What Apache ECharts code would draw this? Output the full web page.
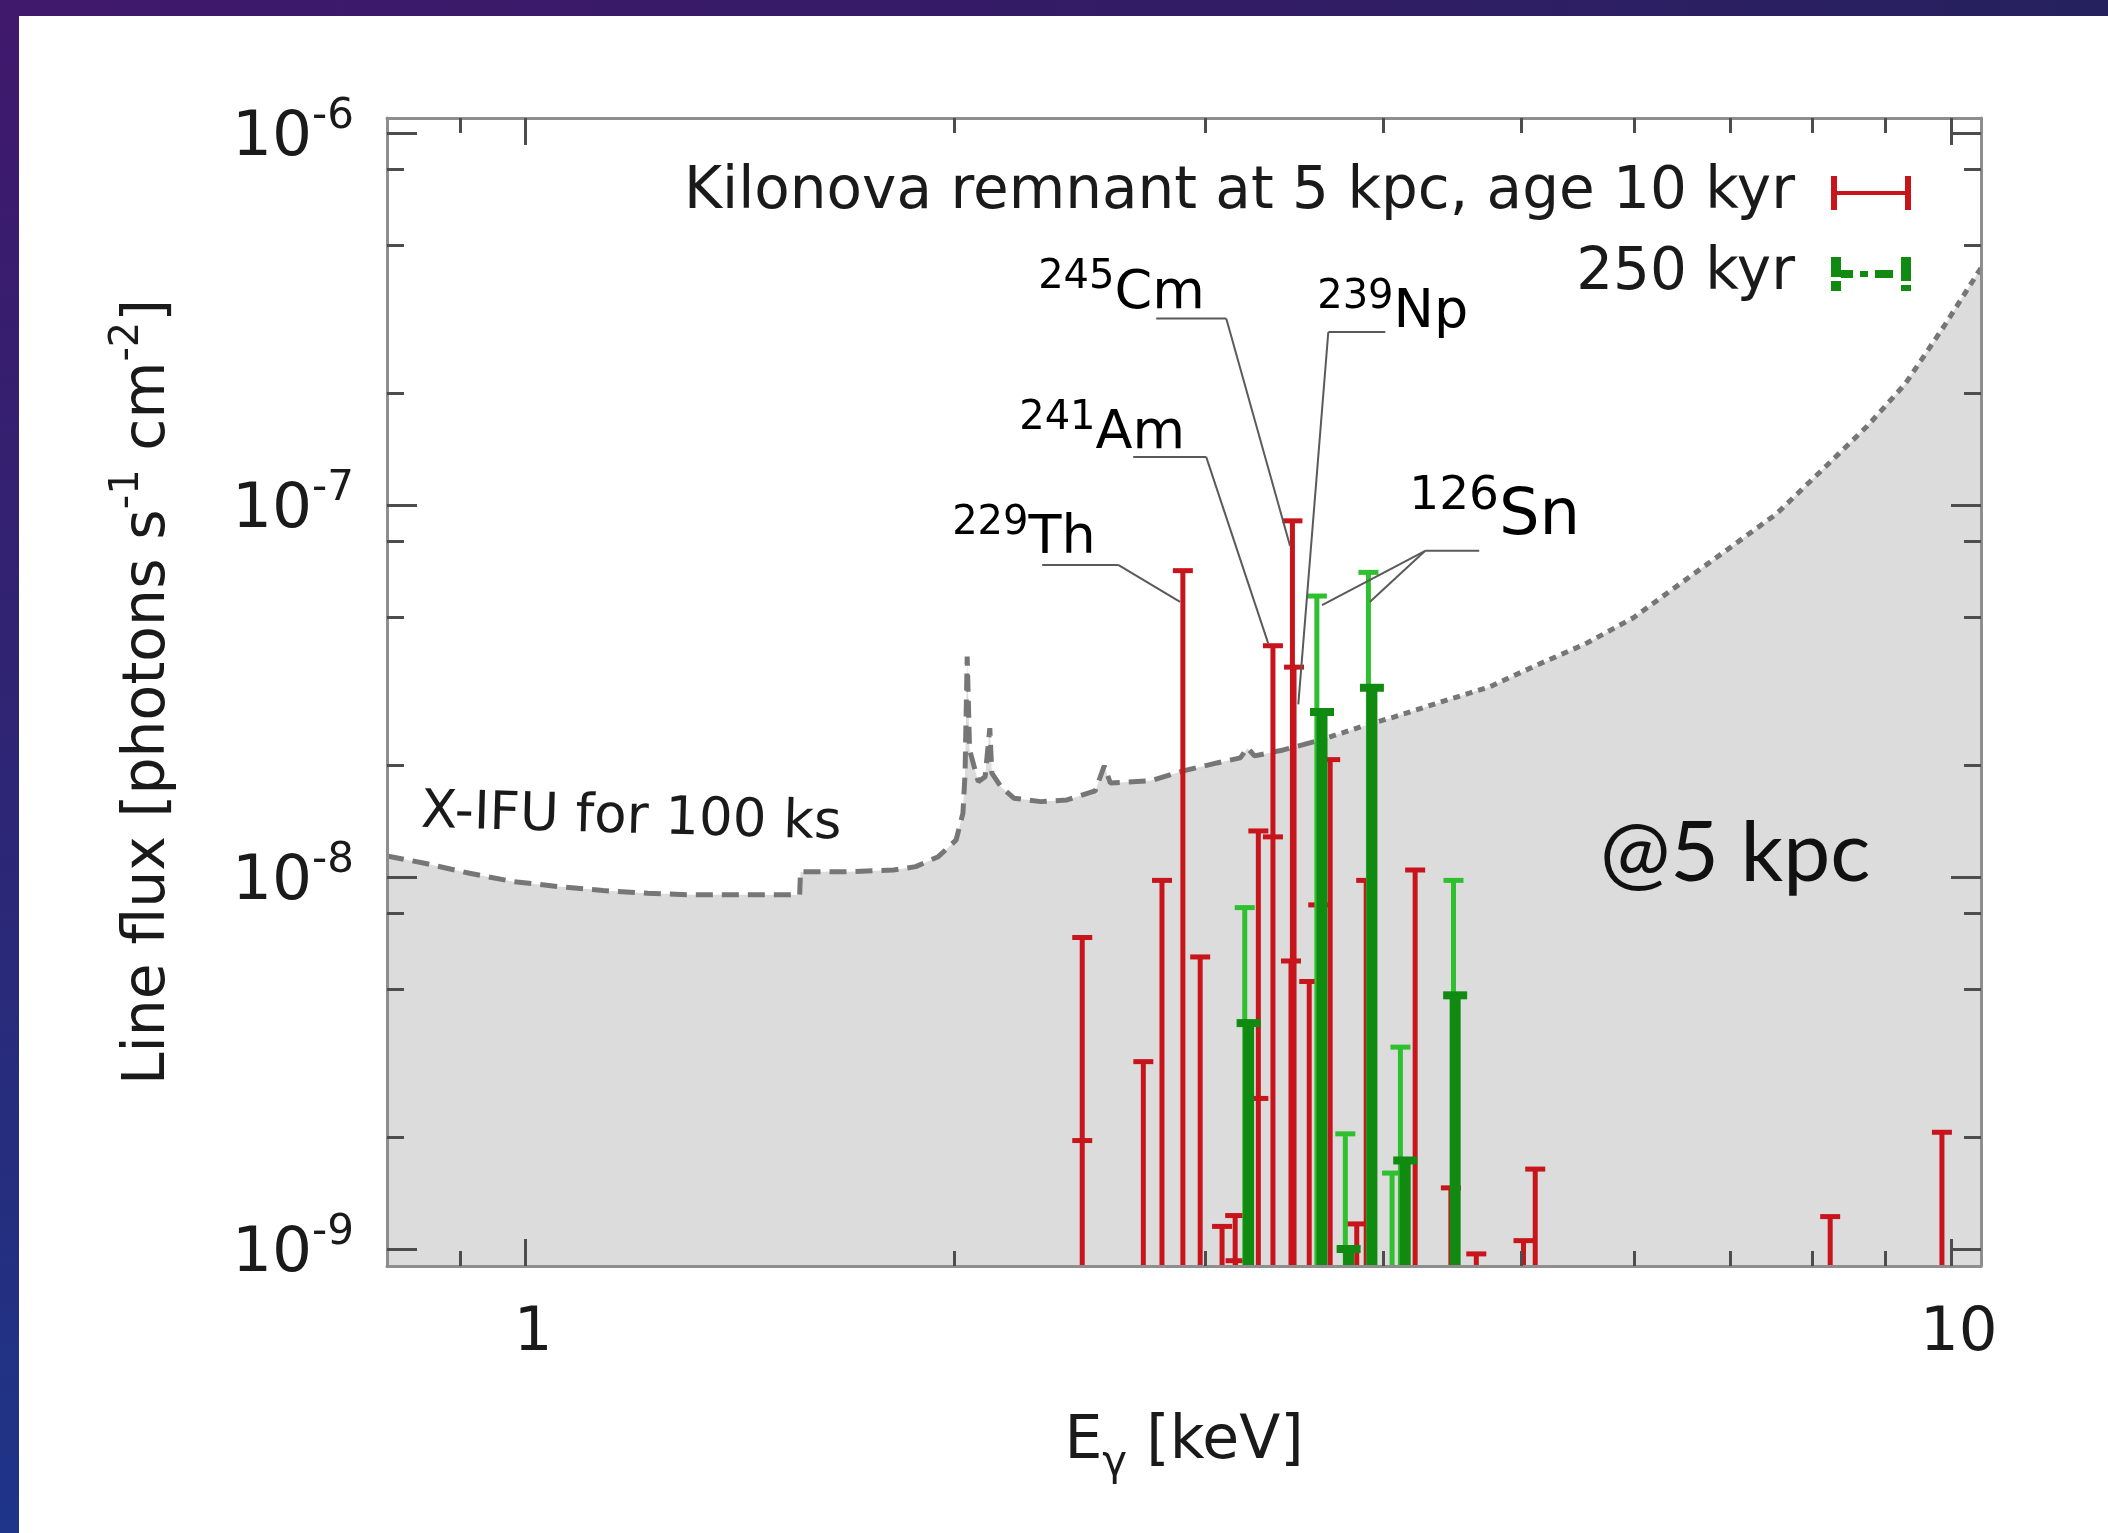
<!DOCTYPE html>
<html>
<head>
<meta charset="utf-8">
<script src="https://cdn.jsdelivr.net/npm/echarts@6.0.0/dist/echarts.min.js"></script>
<style>
  html, body { margin: 0; padding: 0; width: 2108px; height: 1533px; overflow: hidden; }
  body { background: linear-gradient(180deg, #40186c 0%, #2f2472 45%, #1e3588 100%); position: relative; }
  #topband { position: absolute; left: 0; top: 0; width: 2108px; height: 16px;
             background: linear-gradient(90deg, #40186c 0%, #331c66 55%, #25215e 100%); }
  #chart { position: absolute; left: 19px; top: 16px; width: 2089px; height: 1517px; background: #ffffff; }
</style>
</head>
<body>
<div id="topband"></div>
<div id="chart"></div>
<script>
// ---- axis ranges and ticks ----
const xMin = 0.8, xMax = 10.5;
const yMin = 9e-10, yMax = 1.1e-6;
const xMajorTicks = [1, 10];
const xMinorTicks = [0.9, 2, 3, 4, 5, 6, 7, 8, 9];
const yMajorTicks = [1e-9, 1e-8, 1e-7, 1e-6];
const yMinorTicks = [2e-9, 5e-9, 8e-9, 2e-8, 5e-8, 8e-8, 2e-7, 5e-7, 8e-7];

// ---- X-IFU 100 ks line sensitivity (keV, photons s^-1 cm^-2) ----
const sensE = [0.80, 0.85, 0.914, 0.982, 1.056, 1.134, 1.219, 1.311, 1.409, 1.558,
               1.560, 1.687, 1.813, 1.879, 1.949, 2.006, 2.028, 2.035, 2.042, 2.050,
               2.079, 2.102, 2.118, 2.125, 2.156, 2.202, 2.300, 2.399, 2.511, 2.548,
               2.573, 2.744, 2.894, 3.057, 3.174, 3.211, 3.248, 3.402, 3.592, 3.894,
               4.071, 4.390, 4.745, 5.128, 5.541, 5.986, 6.470, 6.981, 7.544, 8.151,
               8.739, 9.290, 9.894, 10.5];
const sensFlux = [1.14e-8, 1.09e-8, 1.024e-8, 9.72e-9, 9.43e-9, 9.20e-9, 9.05e-9, 8.96e-9, 8.96e-9, 8.96e-9,
                  1.034e-8, 1.034e-8, 1.045e-8, 1.067e-8, 1.135e-8, 1.259e-8, 1.485e-8, 1.903e-8, 3.916e-8, 2.198e-8,
                  1.806e-8, 1.863e-8, 2.515e-8, 1.903e-8, 1.751e-8, 1.630e-8, 1.596e-8, 1.613e-8, 1.705e-8, 1.991e-8,
                  1.792e-8, 1.815e-8, 1.930e-8, 2.028e-8, 2.092e-8, 2.226e-8, 2.118e-8, 2.198e-8, 2.323e-8, 2.566e-8,
                  2.697e-8, 2.958e-8, 3.246e-8, 3.721e-8, 4.237e-8, 4.977e-8, 6.18e-8, 7.63e-8, 9.475e-8, 1.26e-7,
                  1.633e-7, 2.12e-7, 3.034e-7, 4.345e-7];
const dashSplitE = 3.6;   // the dash pattern gets finer above this energy

// ---- line fluxes, remnant age 10 kyr (energy, upper end, central value) ----
const redE    = [2.459, 2.714, 2.797, 2.893, 2.975, 3.082, 3.148, 3.150, 3.268, 3.346,
                 3.453, 3.462, 3.445, 3.548, 3.600, 3.670, 3.831, 3.890, 4.210, 4.460,
                 4.647, 5.015, 5.111, 8.230, 9.858];
const redHigh = [6.88e-9, 3.19e-9, 9.80e-9, 6.67e-8, 6.10e-9, 1.15e-9, 1.23e-9, 9.3e-10, 1.331e-8, 4.19e-8,
                 9.08e-8, 3.67e-8, 5.95e-9, 5.24e-9, 8.42e-9, 2.07e-8, 1.168e-9, 9.80e-9, 1.045e-8, 1.46e-9,
                 9.7e-10, 1.053e-9, 1.64e-9, 1.222e-9, 2.06e-9];
const redMid  = [1.957e-9, null, null, null, null, null, null, null, 2.54e-9, 1.283e-8,
                 null, null, null, null, null, null, null, null, null, null,
                 null, null, null, null, null];

// ---- line fluxes, remnant age 250 kyr ----
const greenE    = [3.197, 3.592, 3.761, 3.904, 4.056, 4.111, 4.479];
const greenHigh = [8.28e-9, 5.70e-8, 2.04e-9, 6.60e-8, 1.60e-9, 3.49e-9, 9.80e-9];
const darkE     = [3.217, 3.622, 3.781, 3.926, 4.143, 4.491];
const darkHigh  = [4.05e-9, 2.78e-8, 1.0e-9, 3.23e-8, 1.73e-9, 4.81e-9];

const seriesNames = ['Kilonova remnant at 5 kpc, age 10 kyr', '250 kyr'];

// ---- isotope tags ----
const isoMass = ['229', '241', '245', '239', '126'];
const isoElem = ['Th', 'Am', 'Cm', 'Np', 'Sn'];
// leader geometry in data space: text anchor, underline from/elbow, targets
const isoLayout = [
  { textE: 1.993, textF: 8.32e-8,  lineF: 6.91e-8,  from: 2.305, elbow: 2.606, targets: [[2.880, 5.50e-8]], big: false },
  { textE: 2.221, textF: 1.594e-7, lineF: 1.349e-7, from: 2.670, elbow: 3.004, targets: [[3.320, 4.26e-8]], big: false },
  { textE: 2.290, textF: 3.816e-7, lineF: 3.177e-7, from: 2.771, elbow: 3.103, targets: [[3.440, 7.77e-8]], big: false },
  { textE: 3.594, textF: 3.372e-7, lineF: 2.924e-7, from: 4.012, elbow: 3.659, targets: [[3.486, 2.913e-8]], big: false },
  { textE: 4.170, textF: 9.65e-8,  lineF: 7.54e-8,  from: 4.669, elbow: 4.279, targets: [[3.622, 5.39e-8], [3.914, 5.50e-8]], big: true }
];

// ---- styling ----
const FONT = 'DejaVu Sans';
const INK = '#1a1a1a';
const frameColor = '#8e8e8e';
const tickColor = '#4d4d4d';
const RED = '#c8141b', LIGHT_GREEN = '#2fc02f', DARK_GREEN = '#118a11';

const supRich = (size, supSize, lh) => ({
  b:   { fontFamily: FONT, fontSize: size, lineHeight: lh, verticalAlign: 'bottom', color: INK },
  sup: { fontFamily: FONT, fontSize: supSize, lineHeight: supSize, verticalAlign: 'top', color: INK }
});

function makeAxis(kind, position, ticks, tickLen, withLine, labelCfg, extra) {
  const ax = {
    type: 'log', logBase: 10,
    min: kind === 'x' ? xMin : yMin,
    max: kind === 'x' ? xMax : yMax,
    position: position, z: 10,
    axisLine: { show: withLine, onZero: false, lineStyle: { color: frameColor, width: 3 } },
    axisTick: { show: true, inside: true, length: tickLen, customValues: ticks,
                lineStyle: { color: tickColor, width: 3 } },
    axisLabel: labelCfg || { show: false },
    splitLine: { show: false },
    minorTick: { show: false }
  };
  return Object.assign(ax, extra || {});
}

const xLabelCfg = {
  show: true, customValues: xMajorTicks, margin: 38,
  formatter: v => '{b|' + Math.round(v) + '}',
  rich: { b: { fontFamily: FONT, fontSize: 61, color: INK, padding: [0, 0, 0, 16] } }
};
const yLabelCfg = {
  show: true, customValues: yMajorTicks, margin: 33,
  formatter: v => '{b|10}{sup|' + Math.round(Math.log10(v)) + '}',
  rich: supRich(63, 42, 74)
};

const xAxes = [
  makeAxis('x', 'bottom', xMajorTicks, 27, true, xLabelCfg, {
    name: '{b|E}{sub|γ}{b| [keV]}', nameLocation: 'middle', nameGap: 146,
    nameTextStyle: { rich: {
      b:   { fontFamily: FONT, fontSize: 60, lineHeight: 60, verticalAlign: 'top', color: INK },
      sub: { fontFamily: FONT, fontSize: 42, lineHeight: 104, verticalAlign: 'middle', color: INK }
    } }
  }),
  makeAxis('x', 'bottom', xMinorTicks, 15, false, null),
  makeAxis('x', 'top', xMajorTicks, 27, true, null),
  makeAxis('x', 'top', xMinorTicks, 15, false, null)
];
const yAxes = [
  makeAxis('y', 'left', yMajorTicks, 30, true, yLabelCfg, {
    name: '{b|Line flux [photons s}{sup|-1}{b| cm}{sup|-2}{b|]}',
    nameLocation: 'middle', nameRotate: 90, nameGap: 209,
    nameTextStyle: { rich: supRich(58.5, 40, 70) }
  }),
  makeAxis('y', 'left', yMinorTicks, 17, false, null),
  makeAxis('y', 'right', yMajorTicks, 30, true, null),
  makeAxis('y', 'right', yMinorTicks, 17, false, null)
];

// error bar drawn from the plot floor up to its upper end, with caps
function errorBarRenderer(color, width, capHalf, capWidth) {
  return function (params, api) {
    const e = api.value(0), hi = api.value(1), mid = api.value(2);
    const top = api.coord([e, hi]);
    const cs = params.coordSys;
    const floor = cs.y + cs.height;
    const x = top[0];
    const st = { stroke: color, lineWidth: width, lineCap: 'butt' };
    const capSt = { stroke: color, lineWidth: capWidth, lineCap: 'butt' };
    const children = [
      { type: 'line', shape: { x1: x, y1: floor, x2: x, y2: top[1] }, style: st },
      { type: 'line', shape: { x1: x - capHalf, y1: top[1], x2: x + capHalf, y2: top[1] }, style: capSt }
    ];
    if (isFinite(mid)) {
      const m = api.coord([e, mid]);
      children.push({ type: 'line', shape: { x1: x - capHalf, y1: m[1], x2: x + capHalf, y2: m[1] }, style: capSt });
    }
    return { type: 'group', children: children };
  };
}

const redData = redE.map((e, i) => [e, redHigh[i], redMid[i] == null ? NaN : redMid[i]]);
const greenData = greenE.map((e, i) => [e, greenHigh[i], NaN]);
const darkData = darkE.map((e, i) => [e, darkHigh[i], NaN]);

const sensPairs = sensE.map((e, i) => [e, sensFlux[i]]);
const sensLow = sensPairs.filter(p => p[0] <= dashSplitE);
const sensHigh = sensPairs.filter(p => p[0] >= sensLow[sensLow.length - 1][0]);

const isoRich = big => big ? supRich(64, 47, 76) : supRich(54, 40, 63);

const redIcon = 'path://M0 0H6V15H74V0H80V34H74V19H6V34H0Z';
const greenIcon = 'path://M0 0H10V20H0Z M0 24H10V34H0Z M10 13H22V21H10Z M29 14H37V20H29Z M44 13H62V21H44Z M70 0H80V24H70Z M70 28H80V34H70Z';

const chart = echarts.init(document.getElementById('chart'), null, { renderer: 'canvas' });
chart.setOption({
  animation: false,
  backgroundColor: '#ffffff',
  grid: { left: 368, top: 102, width: 1594, height: 1148, show: false },
  xAxis: xAxes,
  yAxis: yAxes,
  legend: {
    data: [{ name: seriesNames[0], icon: redIcon }, { name: seriesNames[1], icon: greenIcon }],
    orient: 'vertical', align: 'right', right: 192, top: 140,
    itemWidth: 80, itemHeight: 34, itemGap: 17, selectedMode: false,
    textStyle: { fontFamily: FONT, fontSize: 58, lineHeight: 64, color: INK, padding: [0, 31, 0, 0] }
  },
  graphic: [
    { type: 'text', x: 402, y: 797, rotation: -0.028, z: 20,
      style: { text: 'X-IFU for 100 ks', fontFamily: FONT, fontSize: 53, fill: INK, verticalAlign: 'middle' } },
    { type: 'text', x: 1581, y: 838, z: 20,
      style: { text: '@5 kpc', fontFamily: 'Lato', fontSize: 84, fill: '#111111', verticalAlign: 'middle' } }
  ],
  series: [
    {
      name: 'X-IFU area', type: 'line', data: sensPairs, showSymbol: false, silent: true, z: 1,
      lineStyle: { width: 0, opacity: 0 },
      areaStyle: { color: '#dcdcdc', opacity: 1, origin: 'start' }
    },
    {
      name: 'X-IFU low', type: 'line', data: sensLow, showSymbol: false, silent: true, z: 2,
      lineStyle: { color: '#767676', width: 5, type: [17, 9] }
    },
    {
      name: 'X-IFU high', type: 'line', data: sensHigh, showSymbol: false, silent: true, z: 2,
      lineStyle: { color: '#767676', width: 5, type: [7, 6] }
    },
    {
      name: seriesNames[0], type: 'custom', data: redData, z: 3,
      itemStyle: { color: RED },
      renderItem: errorBarRenderer(RED, 5, 10, 5)
    },
    {
      name: '250 kyr upper', type: 'custom', data: greenData, z: 4,
      itemStyle: { color: LIGHT_GREEN },
      renderItem: errorBarRenderer(LIGHT_GREEN, 5, 10, 5)
    },
    {
      name: seriesNames[1], type: 'custom', data: darkData, z: 5,
      itemStyle: { color: DARK_GREEN },
      renderItem: errorBarRenderer(DARK_GREEN, 11, 12, 8)
    },
    {
      name: 'isotopes', type: 'custom', z: 6, silent: true,
      data: isoLayout.map(l => [l.textE, l.textF]),
      renderItem: function (params, api) {
        const L = isoLayout[params.dataIndex];
        const t = api.coord([L.textE, L.textF]);
        const a = api.coord([L.from, L.lineF]);
        const b = api.coord([L.elbow, L.lineF]);
        const lineSt = { stroke: '#5a5a5a', lineWidth: 2 };
        const children = [
          { type: 'text', x: t[0], y: t[1],
            style: { text: '{sup|' + isoMass[params.dataIndex] + '}{b|' + isoElem[params.dataIndex] + '}',
                     rich: isoRich(L.big), align: 'left', verticalAlign: 'middle' } },
          { type: 'line', shape: { x1: a[0], y1: a[1], x2: b[0], y2: b[1] }, style: lineSt }
        ];
        L.targets.forEach(tg => {
          const p = api.coord(tg);
          children.push({ type: 'line', shape: { x1: b[0], y1: b[1], x2: p[0], y2: p[1] }, style: lineSt });
        });
        return { type: 'group', children: children };
      }
    }
  ]
});
</script>
</body>
</html>
